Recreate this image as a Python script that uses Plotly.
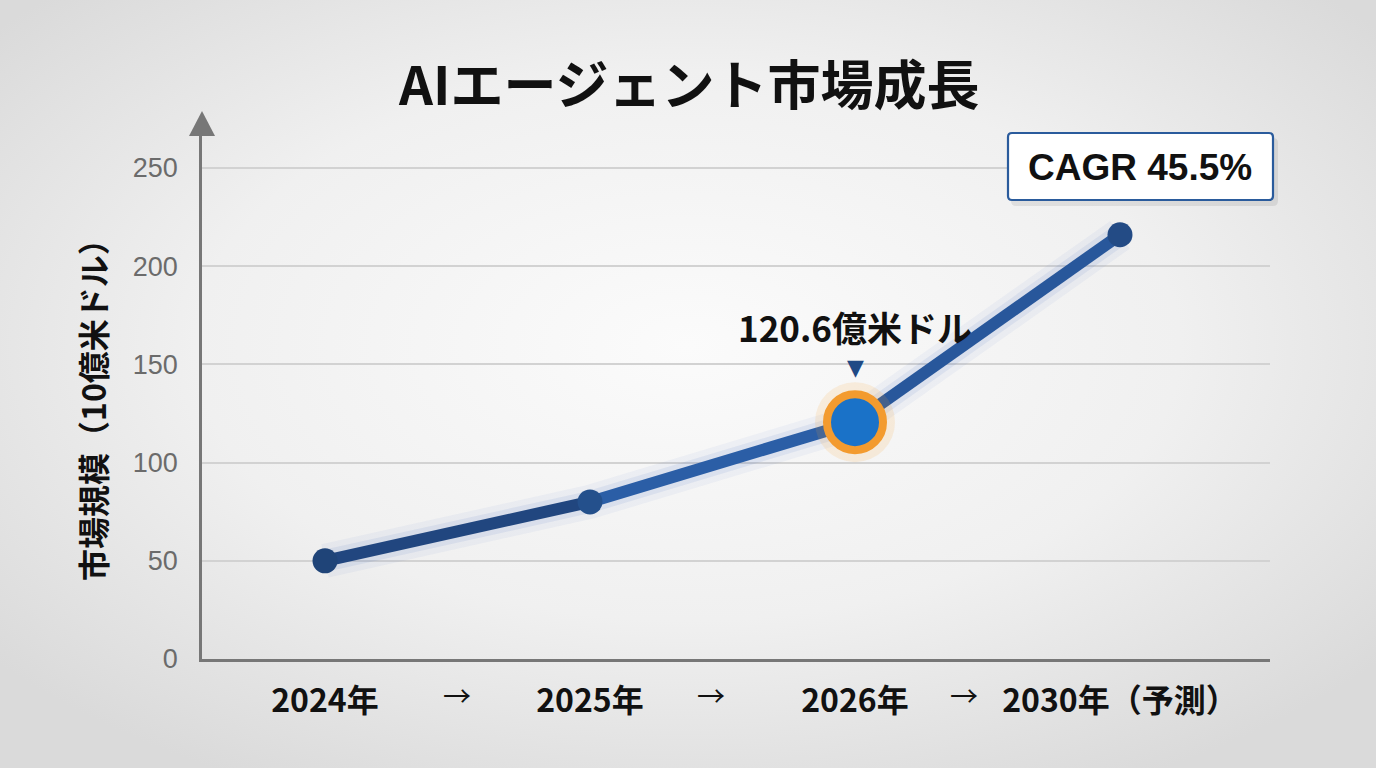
import base64
import plotly.graph_objects as go

# ---- data ----
categories = ["2024年", "2025年", "2026年", "2030年（予測）"]
market_size = [50, 80, 120.6, 216]
highlight_index = 2
highlight_label = "120.6億米ドル"
cagr_label = "CAGR 45.5%"
y_ticks = [0, 50, 100, 150, 200, 250]
title_text = "AIエージェント市場成長"
y_title = "市場規模（10億米ドル）"

# ---- geometry helpers (pixel -> paper) ----
W, H = 1376, 768
L, R, T, B = 202, 106, 128, 109
PW, PH = W - L - R, H - T - B
def px(x):
    return (x - L) / PW
def py(y):
    return (H - B - y) / PH

JP = "Noto Sans CJK JP"

fig = go.Figure()

xi = list(range(len(categories)))

# glow under line
for w, a in [(34, 0.05), (22, 0.09)]:
    fig.add_trace(go.Scatter(x=xi, y=market_size, mode="lines",
                             line=dict(color=f"rgba(50,100,190,{a})", width=w),
                             hoverinfo="skip", showlegend=False))

# line segments with slightly varying blue
seg_colors = ["#21467f", "#2b5ea6", "#28579b"]
for i, c in enumerate(seg_colors):
    fig.add_trace(go.Scatter(x=xi[i:i + 2], y=market_size[i:i + 2], mode="lines",
                             line=dict(color=c, width=12),
                             hoverinfo="skip", showlegend=False))

# regular markers
marker_colors = ["#1f4478", "#24508c", "#2a5ea6", "#234b85"]
reg = [i for i in xi if i != highlight_index]
fig.add_trace(go.Scatter(x=[xi[i] for i in reg], y=[market_size[i] for i in reg], mode="markers",
                         marker=dict(size=25, color=[marker_colors[i] for i in reg],
                                     line=dict(width=0)),
                         hoverinfo="skip", showlegend=False))

# highlighted marker with glow
hx, hy = xi[highlight_index], market_size[highlight_index]
fig.add_trace(go.Scatter(x=[hx], y=[hy], mode="markers",
                         marker=dict(size=80, color="rgba(245,160,50,0.14)", line=dict(width=0)),
                         hoverinfo="skip", showlegend=False))
fig.add_trace(go.Scatter(x=[hx], y=[hy], mode="markers",
                         marker=dict(size=56, color="#1a72c8",
                                     line=dict(color="#f39b2f", width=8)),
                         hoverinfo="skip", showlegend=False))

# background radial gradient as svg image
svg = f'''<svg xmlns="http://www.w3.org/2000/svg" width="{W}" height="{H}">
<defs><radialGradient id="g" cx="50%" cy="45%" r="65%">
<stop offset="0%" stop-color="#fbfbfb"/><stop offset="55%" stop-color="#f0f0f0"/>
<stop offset="100%" stop-color="#dadada"/></radialGradient></defs>
<rect width="100%" height="100%" fill="url(#g)"/></svg>'''
src = "data:image/svg+xml;base64," + base64.b64encode(svg.encode()).decode()
fig.add_layout_image(dict(source=src, xref="paper", yref="paper",
                          x=px(0), y=py(0), sizex=W / PW, sizey=H / PH,
                          xanchor="left", yanchor="top", sizing="stretch", layer="below"))

shapes = []
# y-axis arrow head
shapes.append(dict(type="path", xref="paper", yref="paper",
                   path=f"M {px(189)} {py(136)} L {px(215)} {py(136)} L {px(202)} {py(111)} Z",
                   fillcolor="#777777", line=dict(width=0)))

# CAGR rounded box with shadow
def rrect(x0, y0, x1, y1, r):
    return (f"M {px(x0 + r)} {py(y0)} L {px(x1 - r)} {py(y0)} Q {px(x1)} {py(y0)} {px(x1)} {py(y0 + r)} "
            f"L {px(x1)} {py(y1 - r)} Q {px(x1)} {py(y1)} {px(x1 - r)} {py(y1)} "
            f"L {px(x0 + r)} {py(y1)} Q {px(x0)} {py(y1)} {px(x0)} {py(y1 - r)} "
            f"L {px(x0)} {py(y0 + r)} Q {px(x0)} {py(y0)} {px(x0 + r)} {py(y0)} Z")
shapes.append(dict(type="path", xref="paper", yref="paper", path=rrect(1011, 138, 1278, 206, 5),
                   fillcolor="rgba(0,0,0,0.08)", line=dict(width=0)))
shapes.append(dict(type="path", xref="paper", yref="paper", path=rrect(1008, 133, 1273, 200, 4),
                   fillcolor="#ffffff", line=dict(color="#2a5b9c", width=2.2)))

def ann(text, x, y, size, family=JP, color="#111111", **kw):
    d = dict(text=text, xref="paper", yref="paper", x=px(x), y=py(y), showarrow=False,
             xanchor="center", yanchor="middle", font=dict(family=family, size=size, color=color))
    d.update(kw)
    return d

annotations = []
annotations.append(ann(f"<b>{title_text}</b>", 688, 82, 53))
annotations.append(ann(f"<b>{y_title}</b>", 92, 402, 32, textangle=-90))
annotations.append(ann(f"<b>{cagr_label}</b>", 1140, 167, 37, family="Liberation Sans, Arial"))
annotations.append(dict(text=f"<b>{highlight_label}</b>", x=hx, y=hy, yshift=96,
                        xanchor="center", yanchor="middle",
                        showarrow=False, font=dict(family=JP, size=35, color="#111111")))
annotations.append(dict(text="▼", x=hx, y=hy, yshift=55, xanchor="center", yanchor="middle",
                        showarrow=False, font=dict(family="DejaVu Sans", size=22, color="#1f4a85")))
for ax_px in [457, 711, 964]:
    annotations.append(ann("→", ax_px, 695, 28))

spacing = 265
x0_px = 325
fig.update_layout(
    width=W, height=H,
    margin=dict(l=L, r=R, t=T, b=B),
    paper_bgcolor="#ececec",
    plot_bgcolor="rgba(0,0,0,0)",
    showlegend=False,
    shapes=shapes,
    annotations=annotations,
    xaxis=dict(range=[-(x0_px - L) / spacing, (L + PW - x0_px) / spacing],
               tickmode="array", tickvals=xi,
               ticktext=[f"<b>{c}</b>" for c in categories],
               tickfont=dict(family=JP, size=32, color="#111111"),
               showgrid=False, zeroline=False, showline=True, linecolor="#777777",
               linewidth=2.5, ticks="", ticklabelstandoff=12),
    yaxis=dict(range=[0, (H - B - T) / 1.964], tickmode="array", tickvals=y_ticks,
               tickfont=dict(family="Liberation Sans, Arial", size=27, color="#6b6b6b"),
               showgrid=True, gridcolor="#d2d2d2", gridwidth=1.5,
               zeroline=False, showline=True, linecolor="#777777", linewidth=2.5,
               ticks="", ticklabelstandoff=16),
)

fig.write_html("out.html", config={"displayModeBar": False},
               post_script="document.body.style.margin='0';document.body.style.overflow='hidden';")
